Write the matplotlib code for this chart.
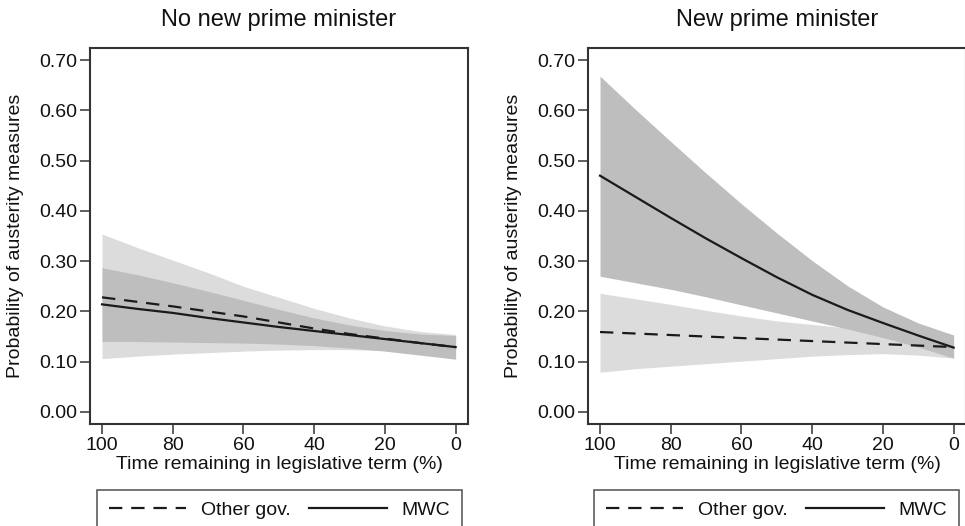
import matplotlib
matplotlib.use("Agg")
import matplotlib.pyplot as plt
from matplotlib.lines import Line2D

plt.rcParams["font.family"] = ["Liberation Sans", "DejaVu Sans"]

# time remaining in legislative term (%)
time_left = [100, 90, 80, 70, 60, 50, 40, 30, 20, 10, 0]

# panel 1: no new prime minister
p1_other = [0.228, 0.219, 0.210, 0.200, 0.190, 0.178, 0.166, 0.155, 0.146, 0.137, 0.129]
p1_other_hi = [0.354, 0.327, 0.302, 0.277, 0.250, 0.228, 0.206, 0.187, 0.171, 0.160, 0.154]
p1_other_lo = [0.106, 0.111, 0.115, 0.118, 0.121, 0.123, 0.124, 0.124, 0.122, 0.118, 0.113]
p1_mwc = [0.214, 0.205, 0.197, 0.187, 0.178, 0.169, 0.161, 0.153, 0.145, 0.137, 0.129]
p1_mwc_hi = [0.287, 0.273, 0.257, 0.240, 0.222, 0.204, 0.187, 0.173, 0.162, 0.155, 0.152]
p1_mwc_lo = [0.140, 0.140, 0.139, 0.138, 0.137, 0.135, 0.132, 0.127, 0.121, 0.113, 0.105]

# panel 2: new prime minister
p2_other = [0.159, 0.156, 0.153, 0.150, 0.147, 0.144, 0.141, 0.138, 0.135, 0.132, 0.129]
p2_other_hi = [0.236, 0.225, 0.214, 0.202, 0.191, 0.181, 0.174, 0.167, 0.162, 0.157, 0.153]
p2_other_lo = [0.079, 0.086, 0.091, 0.096, 0.101, 0.106, 0.111, 0.114, 0.116, 0.113, 0.107]
p2_mwc = [0.470, 0.428, 0.386, 0.345, 0.306, 0.268, 0.233, 0.203, 0.177, 0.152, 0.128]
p2_mwc_hi = [0.668, 0.602, 0.538, 0.475, 0.414, 0.356, 0.301, 0.251, 0.209, 0.177, 0.153]
p2_mwc_lo = [0.270, 0.257, 0.244, 0.229, 0.213, 0.197, 0.181, 0.165, 0.148, 0.129, 0.107]

titles = ["No new prime minister", "New prime minister"]
x_ticks = [100, 80, 60, 40, 20, 0]
y_ticks = [0.0, 0.1, 0.2, 0.3, 0.4, 0.5, 0.6, 0.7]

LIGHT = "#dcdcdc"
DARK = "#bebebe"
INK = "#1a1a1a"
EDGE = "#333333"
TEXT = "#111111"

fig = plt.figure(figsize=(9.65, 5.26), dpi=100)
W, H = 965, 526


def px_axes(left, top, right, bottom):
    return fig.add_axes([left / W, 1 - bottom / H, (right - left) / W, (bottom - top) / H])


panels = [
    (px_axes(90, 48, 468, 424), p1_other, p1_other_lo, p1_other_hi, p1_mwc, p1_mwc_lo, p1_mwc_hi),
    (px_axes(588, 48, 966, 424), p2_other, p2_other_lo, p2_other_hi, p2_mwc, p2_mwc_lo, p2_mwc_hi),
]

for i, (ax, oth, oth_lo, oth_hi, mwc, mwc_lo, mwc_hi) in enumerate(panels):
    ax.fill_between(time_left, oth_lo, oth_hi, color=LIGHT, linewidth=0, zorder=1)
    ax.fill_between(time_left, mwc_lo, mwc_hi, color=DARK, linewidth=0, zorder=2)
    ax.plot(time_left, oth, color=INK, linewidth=1.6, linestyle=(0, (6, 4)), zorder=3)
    ax.plot(time_left, mwc, color=INK, linewidth=1.6, zorder=4)

    ax.set_xlim(103.4, -3.5)
    ax.set_ylim(-0.024, 0.724)
    ax.set_xticks(x_ticks)
    ax.set_yticks(y_ticks)
    ax.set_yticklabels([f"{v:.2f}" for v in y_ticks])
    ax.tick_params(direction="out", length=7, width=1.1, color=EDGE,
                   labelsize=14, labelcolor=TEXT, pad=2)
    for sp in ax.spines.values():
        sp.set_color(EDGE)
        sp.set_linewidth(1.5)

    ax.text(0.5, 1.0745, titles[i], transform=ax.transAxes, fontsize=17,
            color=TEXT, ha="center", va="center")
    ax.set_xlabel("Time remaining in legislative term (%)", fontsize=14, color=TEXT)
    ax.xaxis.set_label_coords(0.5, -0.109)
    ax.xaxis.label.set_va("center")
    ax.set_ylabel("Probability of austerity measures", fontsize=14, color=TEXT)
    ax.yaxis.set_label_coords(-0.198, 0.5)
    ax.yaxis.label.set_va("center")

    handles = [
        Line2D([], [], color=INK, linewidth=1.6, linestyle=(0, (6, 4))),
        Line2D([], [], color=INK, linewidth=1.6),
    ]
    x0 = 0.0185 if i == 0 else 0.016
    leg = ax.legend(handles, ["Other gov.", "MWC"], loc="upper left",
                    bbox_to_anchor=(x0, -0.1755 - 0.12, 0.965, 0.12),
                    mode="expand", ncol=2, borderaxespad=0, frameon=True,
                    fancybox=False, fontsize=14, handlelength=4.0,
                    handletextpad=0.75, borderpad=0.6)
    leg.get_frame().set_edgecolor(EDGE)
    leg.get_frame().set_linewidth(1.2)
    for t in leg.get_texts():
        t.set_color(TEXT)

fig.savefig("out.png", dpi=100)
